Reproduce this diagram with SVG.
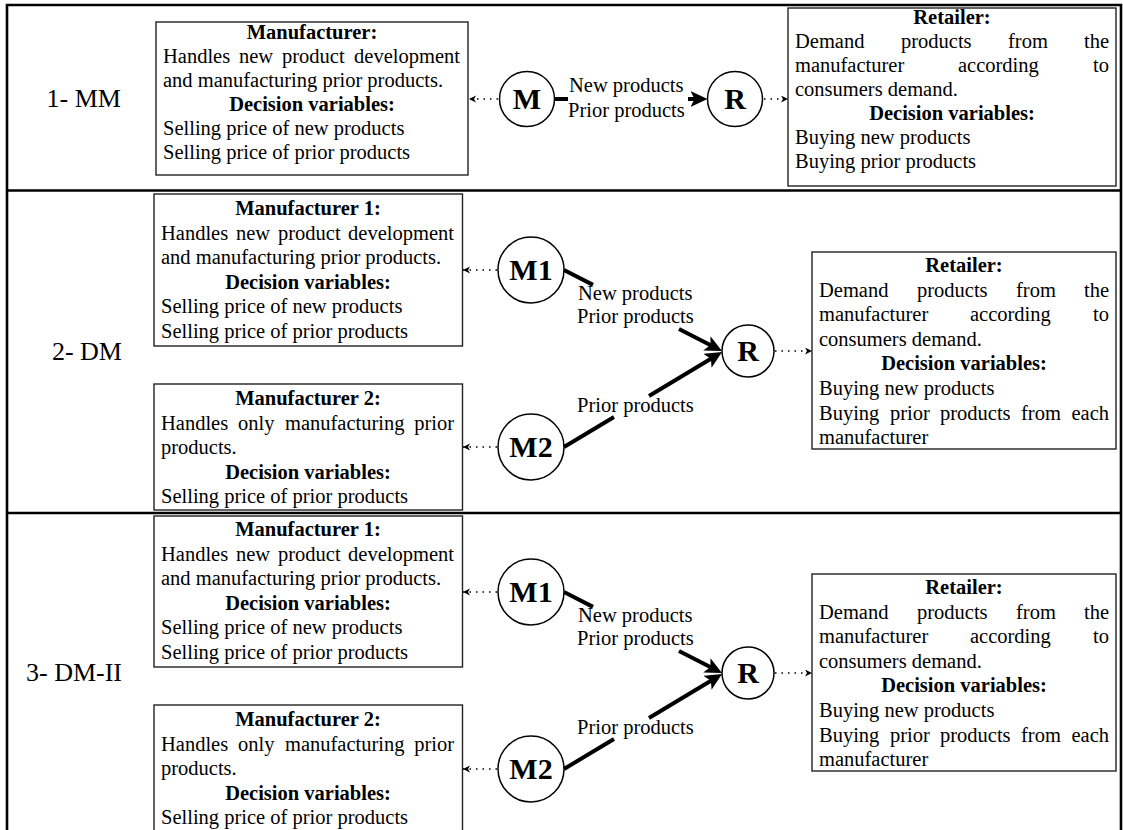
<svg xmlns="http://www.w3.org/2000/svg" width="1123" height="830" viewBox="0 0 1123 830">
<style>
.t{font-family:"Liberation Serif","Times New Roman",serif;font-size:20.5px;fill:#000}
.b{font-weight:bold}
.c{text-anchor:middle}
.e{text-anchor:end}
.lbl{font-family:"Liberation Serif","Times New Roman",serif;font-size:26px;text-anchor:end;fill:#000}
.cl{font-family:"Liberation Serif","Times New Roman",serif;font-size:30px;font-weight:bold;text-anchor:middle;fill:#000}
.box{fill:#fff;stroke:#222;stroke-width:1.4}
.nd{fill:#fff;stroke:#000;stroke-width:1.5}
.frame{fill:none;stroke:#000;stroke-width:2.6}
.thick{fill:none;stroke:#000;stroke-width:4}
.dot{fill:none;stroke:#000;stroke-width:1.4;stroke-dasharray:1.5 5}
</style>
<defs>
<marker id="ah" markerUnits="userSpaceOnUse" markerWidth="18" markerHeight="16" refX="6" refY="8" orient="auto"><path d="M0,0 L17,8 L0,16 L4,8 z" fill="#000"/></marker>
<marker id="sh" markerUnits="userSpaceOnUse" markerWidth="8" markerHeight="8" refX="7" refY="3.5" orient="auto"><path d="M0,0 L7,3.5 L0,7 L2,3.5 z" fill="#000"/></marker>
</defs>

<g id="frame">
<path class="frame" d="M7,830 V5 H1121 V830"/>
<path class="frame" d="M7,190.5 H1121 M7,513 H1121"/>
</g>

<!-- Section 1 -->
<g id="sec1-label"><text class="lbl" x="121" y="107">1- MM</text></g>
<g id="sec1-manufacturer">
<rect class="box" x="156" y="22" width="312" height="153"/>
<text class="t b c" x="312" y="39">Manufacturer:</text>
<text class="t" x="163" y="63">Handles</text><text class="t" x="239" y="63">new</text><text class="t" x="282" y="63">product</text><text class="t e" x="460" y="63">development</text>
<text class="t" x="163" y="87">and manufacturing prior products.</text>
<text class="t b c" x="312" y="111">Decision variables:</text>
<text class="t" x="163" y="135">Selling price of new products</text>
<text class="t" x="163" y="159">Selling price of prior products</text>
</g>
<g id="sec1-M"><circle class="nd" cx="527" cy="99" r="27.5"/><text class="cl" x="527" y="109">M</text></g>
<g id="sec1-R"><circle class="nd" cx="735" cy="99" r="27.5"/><text class="cl" x="735" y="109">R</text></g>
<g id="sec1-retailer">
<rect class="box" x="788" y="8" width="328" height="178"/>
<text class="t b c" x="952" y="24">Retailer:</text>
<text class="t" x="795" y="48">Demand</text><text class="t" x="901" y="48">products</text><text class="t" x="1008" y="48">from</text><text class="t e" x="1109" y="48">the</text>
<text class="t" x="795" y="72">manufacturer</text><text class="t" x="958" y="72">according</text><text class="t e" x="1109" y="72">to</text>
<text class="t" x="795" y="96">consumers demand.</text>
<text class="t b c" x="952" y="120">Decision variables:</text>
<text class="t" x="795" y="144">Buying new products</text>
<text class="t" x="795" y="168">Buying prior products</text>
</g>

<!-- Section 2 -->
<g id="sec2-label"><text class="lbl" x="122" y="360">2- DM</text></g>
<g id="sec2-manufacturer1">
<rect class="box" x="154" y="194" width="308.5" height="152"/>
<text class="t b c" x="308" y="215">Manufacturer 1:</text>
<text class="t" x="161" y="239.6">Handles</text><text class="t" x="236" y="239.6">new</text><text class="t" x="278" y="239.6">product</text><text class="t e" x="454" y="239.6">development</text>
<text class="t" x="161" y="264.2">and manufacturing prior products.</text>
<text class="t b c" x="308" y="288.8">Decision variables:</text>
<text class="t" x="161" y="313.4">Selling price of new products</text>
<text class="t" x="161" y="338">Selling price of prior products</text>
</g>
<g id="sec2-manufacturer2">
<rect class="box" x="154" y="384" width="308.5" height="126"/>
<text class="t b c" x="308" y="405">Manufacturer 2:</text>
<text class="t" x="161" y="429.6">Handles</text><text class="t" x="238" y="429.6">only</text><text class="t" x="285" y="429.6">manufacturing</text><text class="t e" x="454" y="429.6">prior</text>
<text class="t" x="161" y="454.2">products.</text>
<text class="t b c" x="308" y="478.8">Decision variables:</text>
<text class="t" x="161" y="503.4">Selling price of prior products</text>
</g>
<g id="sec2-M1"><circle class="nd" cx="531" cy="270" r="33"/><text class="cl" x="531" y="280">M1</text></g>
<g id="sec2-M2"><circle class="nd" cx="531" cy="447" r="33"/><text class="cl" x="531" y="457">M2</text></g>
<g id="sec2-R"><circle class="nd" cx="748" cy="351" r="26"/><text class="cl" x="748" y="361">R</text></g>
<g id="sec2-retailer">
<rect class="box" x="812" y="252" width="304" height="197"/>
<text class="t b c" x="964" y="272">Retailer:</text>
<text class="t" x="819" y="296.6">Demand</text><text class="t" x="917" y="296.6">products</text><text class="t" x="1016" y="296.6">from</text><text class="t e" x="1109" y="296.6">the</text>
<text class="t" x="819" y="321.2">manufacturer</text><text class="t" x="970" y="321.2">according</text><text class="t e" x="1109" y="321.2">to</text>
<text class="t" x="819" y="345.8">consumers demand.</text>
<text class="t b c" x="964" y="370.4">Decision variables:</text>
<text class="t" x="819" y="395">Buying new products</text>
<text class="t" x="819" y="419.6">Buying</text><text class="t" x="890" y="419.6">prior</text><text class="t" x="940" y="419.6">products</text><text class="t" x="1021" y="419.6">from</text><text class="t e" x="1109" y="419.6">each</text>
<text class="t" x="819" y="444.2">manufacturer</text>
</g>

<!-- Section 3 -->
<g id="sec3-label"><text class="lbl" x="122" y="681">3- DM-II</text></g>
<g id="sec3-manufacturer1">
<rect class="box" x="154" y="516" width="308.5" height="151"/>
<text class="t b c" x="308" y="536">Manufacturer 1:</text>
<text class="t" x="161" y="560.6">Handles</text><text class="t" x="236" y="560.6">new</text><text class="t" x="278" y="560.6">product</text><text class="t e" x="454" y="560.6">development</text>
<text class="t" x="161" y="585.2">and manufacturing prior products.</text>
<text class="t b c" x="308" y="609.8">Decision variables:</text>
<text class="t" x="161" y="634.4">Selling price of new products</text>
<text class="t" x="161" y="659">Selling price of prior products</text>
</g>
<g id="sec3-manufacturer2">
<rect class="box" x="154" y="705" width="308.5" height="130"/>
<text class="t b c" x="308" y="726">Manufacturer 2:</text>
<text class="t" x="161" y="750.6">Handles</text><text class="t" x="238" y="750.6">only</text><text class="t" x="285" y="750.6">manufacturing</text><text class="t e" x="454" y="750.6">prior</text>
<text class="t" x="161" y="775.2">products.</text>
<text class="t b c" x="308" y="799.8">Decision variables:</text>
<text class="t" x="161" y="824.4">Selling price of prior products</text>
</g>
<g id="sec3-M1"><circle class="nd" cx="531" cy="592" r="33"/><text class="cl" x="531" y="602">M1</text></g>
<g id="sec3-M2"><circle class="nd" cx="531" cy="769" r="33"/><text class="cl" x="531" y="779">M2</text></g>
<g id="sec3-R"><circle class="nd" cx="748" cy="673" r="26"/><text class="cl" x="748" y="683">R</text></g>
<g id="sec3-retailer">
<rect class="box" x="812" y="574" width="304" height="197"/>
<text class="t b c" x="964" y="594">Retailer:</text>
<text class="t" x="819" y="618.6">Demand</text><text class="t" x="917" y="618.6">products</text><text class="t" x="1016" y="618.6">from</text><text class="t e" x="1109" y="618.6">the</text>
<text class="t" x="819" y="643.2">manufacturer</text><text class="t" x="970" y="643.2">according</text><text class="t e" x="1109" y="643.2">to</text>
<text class="t" x="819" y="667.8">consumers demand.</text>
<text class="t b c" x="964" y="692.4">Decision variables:</text>
<text class="t" x="819" y="717">Buying new products</text>
<text class="t" x="819" y="741.6">Buying</text><text class="t" x="890" y="741.6">prior</text><text class="t" x="940" y="741.6">products</text><text class="t" x="1021" y="741.6">from</text><text class="t e" x="1109" y="741.6">each</text>
<text class="t" x="819" y="766.2">manufacturer</text>
</g>

<g id="connectors">
<!-- section 1 -->
<path class="dot" d="M498,99 H469" marker-end="url(#sh)"/>
<path class="dot" d="M764,99 H788" marker-end="url(#sh)"/>
<path class="thick" d="M554,99 H568"/>
<path class="thick" d="M688,99 H696.5" marker-end="url(#ah)"/>
<text class="t" x="569" y="92">New products</text>
<text class="t" x="568" y="117">Prior products</text>
<!-- section 2 -->
<path class="dot" d="M497,270 H463" marker-end="url(#sh)"/>
<path class="dot" d="M497,447 H463" marker-end="url(#sh)"/>
<path class="dot" d="M775,351 H812" marker-end="url(#sh)"/>
<path class="thick" d="M564,270 L593,284.9"/>
<path class="thick" d="M679,329 L712.2,346" marker-end="url(#ah)"/>
<path class="thick" d="M564,447 L614,417"/>
<path class="thick" d="M649,396 L712.6,357.7" marker-end="url(#ah)"/>
<text class="t" x="578" y="300">New products</text>
<text class="t" x="577" y="323">Prior products</text>
<text class="t" x="577" y="412">Prior products</text>
<!-- section 3 -->
<path class="dot" d="M497,592 H463" marker-end="url(#sh)"/>
<path class="dot" d="M497,769 H463" marker-end="url(#sh)"/>
<path class="dot" d="M775,673 H812" marker-end="url(#sh)"/>
<path class="thick" d="M564,592 L593,606.9"/>
<path class="thick" d="M679,651 L712.2,668" marker-end="url(#ah)"/>
<path class="thick" d="M564,769 L614,739"/>
<path class="thick" d="M649,718 L712.6,679.7" marker-end="url(#ah)"/>
<text class="t" x="578" y="622">New products</text>
<text class="t" x="577" y="645">Prior products</text>
<text class="t" x="577" y="734">Prior products</text>
</g>
</svg>
